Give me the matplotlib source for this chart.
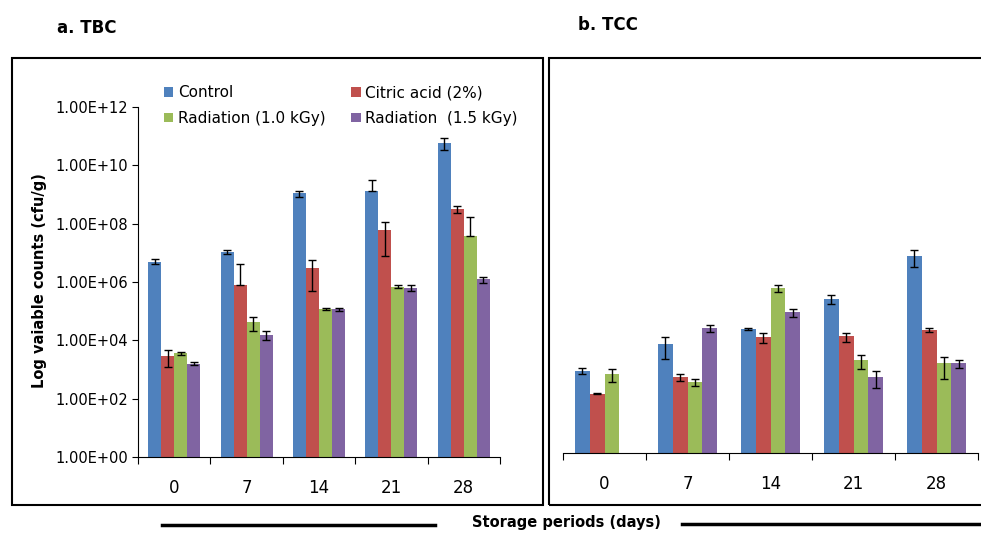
import matplotlib.pyplot as plt
import numpy as np
from matplotlib.patches import Rectangle
from matplotlib.lines import Line2D

# storage days and treatments
days = ['0', '7', '14', '21', '28']
series = ['Control', 'Citric acid (2%)', 'Radiation (1.0 kGy)', 'Radiation  (1.5 kGy)']
colors = ['#4F81BD', '#C0504D', '#9BBB59', '#8064A2']

# a. TBC (cfu/g)
tbc_control = [5.0e6, 1.07e7, 1.1e9, 1.3e9, 5.9e10]
tbc_citric = [2.9e3, 7.8e5, 3.0e6, 6.0e7, 3.1e8]
tbc_rad10 = [3.6e3, 4.2e4, 1.2e5, 6.9e5, 3.9e7]
tbc_rad15 = [1.6e3, 1.55e4, 1.15e5, 6.3e5, 1.23e6]
tbc_control_err = [1.0e6, 1.7e6, 2.5e8, 1.9e9, 2.5e10]
tbc_citric_err = [1.7e3, 3.3e6, 2.5e6, 5.2e7, 8.0e7]
tbc_rad10_err = [5.0e2, 2.1e4, 1.0e4, 8.0e4, 1.3e8]
tbc_rad15_err = [2.2e2, 5.5e3, 1.0e4, 1.4e5, 3.0e5]

# b. TCC (cfu/g), no 1.5 kGy value at day 0
tcc_control = [7.1e2, 6.0e3, 2.0e4, 2.2e5, 6.9e6]
tcc_citric = [1.14e2, 4.3e2, 1.05e4, 1.1e4, 1.83e4]
tcc_rad10 = [5.6e2, 2.9e2, 5.2e5, 1.7e3, 1.28e3]
tcc_rad15 = [np.nan, 2.15e4, 7.7e4, 4.4e2, 1.28e3]
tcc_control_err = [1.5e2, 4.2e3, 1.0e3, 7.5e4, 4.0e6]
tcc_citric_err = [3, 1.2e2, 4.0e3, 4.0e3, 2.5e3]
tcc_rad10_err = [2.7e2, 8.0e1, 1.4e5, 9.0e2, 9.0e2]
tcc_rad15_err = [np.nan, 6.0e3, 2.5e4, 2.6e2, 3.9e2]

ytick_vals = [1e0, 1e2, 1e4, 1e6, 1e8, 1e10, 1e12]
ytick_labels = ['1.00E+00', '1.00E+02', '1.00E+04', '1.00E+06', '1.00E+08', '1.00E+10', '1.00E+12']

fig = plt.figure(figsize=(9.81, 5.35), dpi=100)
W, H = 981, 535


def fx(px):
    return px / W


def fy(py):
    return 1 - py / H


def draw_panel(ax, vals, errs):
    x = np.arange(len(days))
    bw = 0.18
    handles = []
    for i, (v, e) in enumerate(zip(vals, errs)):
        v = np.array(v, dtype=float)
        e = np.array(e, dtype=float)
        pos = x + (i - 1.5) * bw
        b = ax.bar(pos, v, bw, color=colors[i], log=True, zorder=2)
        handles.append(b)
        lower = np.where(e < v, e, 0.0)
        ax.errorbar(pos, v, yerr=[lower, e], fmt='none', ecolor='black',
                    elinewidth=1, capsize=3, capthick=1, zorder=3)
    ax.set_yscale('log')
    ax.set_ylim(1, 1e12)
    ax.set_xlim(-0.5, len(days) - 0.5)
    # ticks between groups, labels at centres
    ax.set_xticks(np.arange(len(days) + 1) - 0.5)
    ax.set_xticklabels([])
    ax.set_xticks(x, minor=True)
    ax.set_xticklabels(days, minor=True, fontsize=12)
    ax.tick_params(axis='x', which='major', length=5, direction='out', width=0.8)
    ax.tick_params(axis='x', which='minor', length=0, pad=16)
    for s in ['top', 'right']:
        ax.spines[s].set_visible(False)
    ax.spines['bottom'].set_linewidth(0.8)
    return handles


# left panel
ax1 = fig.add_axes([fx(138), fy(457), fx(500) - fx(138), fy(107) - fy(457)])
h = draw_panel(ax1, [tbc_control, tbc_citric, tbc_rad10, tbc_rad15],
               [tbc_control_err, tbc_citric_err, tbc_rad10_err, tbc_rad15_err])
ax1.set_yticks(ytick_vals)
ax1.set_yticklabels(ytick_labels, fontsize=10.5)
ax1.yaxis.set_minor_locator(plt.NullLocator())
ax1.tick_params(axis='y', length=4, width=0.8, pad=3)
ax1.spines['left'].set_linewidth(0.8)

# right panel
ax2 = fig.add_axes([fx(563), fy(453), fx(978) - fx(563), fy(107) - fy(453)])
draw_panel(ax2, [tcc_control, tcc_citric, tcc_rad10, tcc_rad15],
           [tcc_control_err, tcc_citric_err, tcc_rad10_err, tcc_rad15_err])
ax2.spines['left'].set_visible(False)
ax2.set_yticks([])
ax2.yaxis.set_minor_locator(plt.NullLocator())

# legend, rows: Control | Citric, 1.0 kGy | 1.5 kGy
order = [0, 2, 1, 3]
fig.legend([h[i] for i in order], [series[i] for i in order], ncol=2,
           loc='upper left', bbox_to_anchor=(fx(158), fy(79)), frameon=False,
           fontsize=11, handlelength=0.6, handleheight=0.6, handletextpad=0.3,
           columnspacing=1.7, labelspacing=0.7, borderaxespad=0)

# panel frames
fig.add_artist(Rectangle((fx(12), fy(505)), fx(543) - fx(12), fy(58) - fy(505),
                         transform=fig.transFigure, fill=False, lw=1.5, ec='black'))
fig.add_artist(Rectangle((fx(549), fy(505)), fx(985) - fx(549), fy(58) - fy(505),
                         transform=fig.transFigure, fill=False, lw=1.5, ec='black'))

# titles and labels
fig.text(fx(57), fy(28), 'a. TBC', fontsize=12, fontweight='bold', va='center')
fig.text(fx(578), fy(25), 'b. TCC', fontsize=12, fontweight='bold', va='center')
fig.text(fx(40), fy(281), 'Log vaiable counts (cfu/g)', rotation=90, fontsize=10.5,
         fontweight='bold', ha='center', va='center')
fig.text(fx(566), fy(523), 'Storage periods (days)', fontsize=10.5, fontweight='bold',
         ha='center', va='center')
fig.add_artist(Line2D([fx(162), fx(435)], [fy(525), fy(525)], transform=fig.transFigure,
                      color='black', lw=2.5))
fig.add_artist(Line2D([fx(682), fx(981)], [fy(524), fy(524)], transform=fig.transFigure,
                      color='black', lw=2.5))

fig.savefig('out.png', dpi=100)
